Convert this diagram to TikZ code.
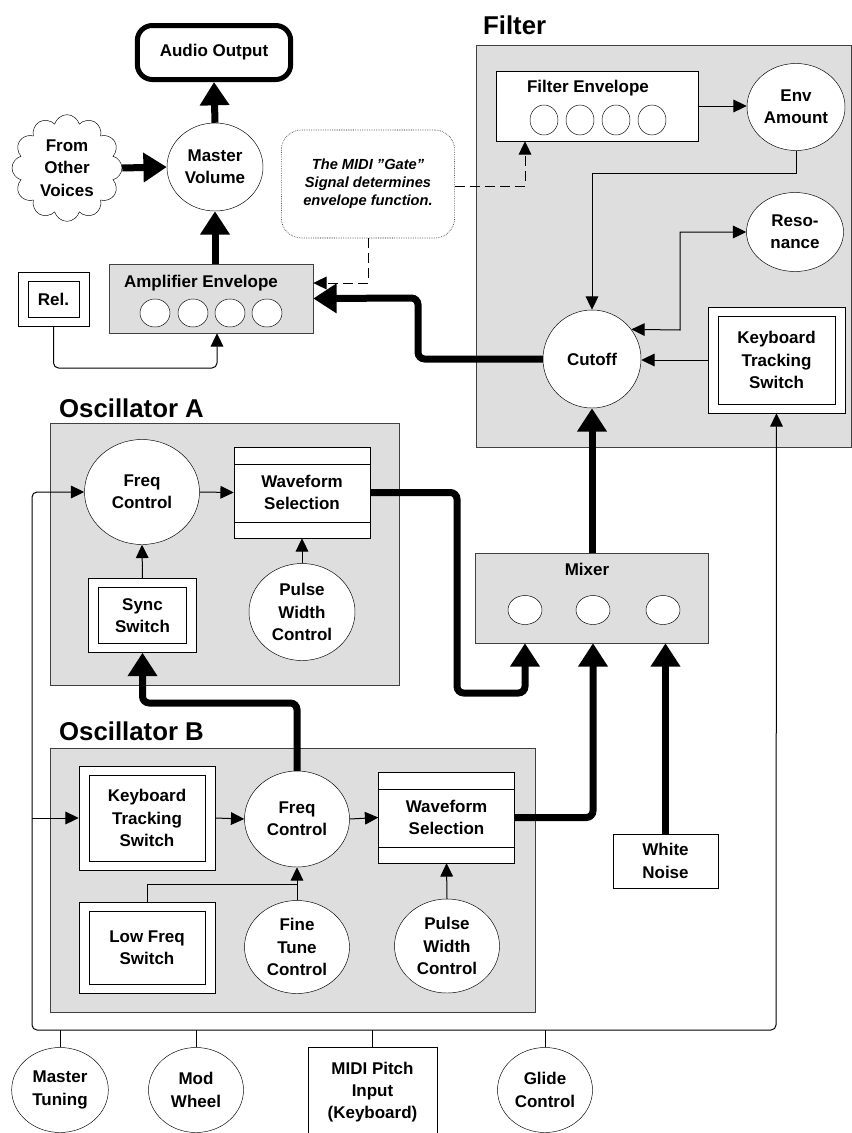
\documentclass[tikz,border=0pt]{standalone}
\usepackage{fontspec}
\setmainfont{Liberation Sans}
\usetikzlibrary{shapes.geometric,shapes.symbols,arrows.meta}

\begin{document}
\begin{tikzpicture}[
    x=0.3mm, y=-0.3mm,
    txt/.style={font=\fontsize{14.5}{19}\selectfont\bfseries, align=center},
    bigtitle/.style={font=\fontsize{22}{26}\selectfont\bfseries, anchor=base west},
    panel/.style={rectangle, draw=black!75, fill=black!13, inner sep=0pt},
    plainbox/.style={rectangle, draw, fill=white, inner sep=0pt, txt},
    ctrl/.style={ellipse, draw, fill=white, inner sep=0pt, txt},
    knob/.style={ellipse, draw, fill=white, inner sep=0pt,
        minimum width=9mm, minimum height=8.4mm},
    swbox/.style={plainbox,
        path picture={
            \draw ([shift={(3mm,-2.7mm)}]path picture bounding box.north west)
                rectangle ([shift={(-3mm,2.7mm)}]path picture bounding box.south east);
        }},
    wavebox/.style={plainbox, minimum width=40.8mm, minimum height=27.3mm,
        path picture={
            \draw ([yshift=-5.1mm]path picture bounding box.north west)
                -- ([yshift=-5.1mm]path picture bounding box.north east);
            \draw ([yshift=4.8mm]path picture bounding box.south west)
                -- ([yshift=4.8mm]path picture bounding box.south east);
        }},
    sigline/.style={line width=0.3mm, >={Triangle[length=4mm, width=3.8mm]}},
    gateline/.style={sigline, dash pattern=on 3mm off 1.5mm},
    audioline/.style={line width=2.1mm, rounded corners=2mm,
        >={Triangle[length=7mm, width=8.5mm]}}
]
\useasboundingbox (0,0) rectangle (852,1133);

% --- Output stage ---
\node[plainbox, line width=1.5mm, rounded corners=4.5mm,
      minimum width=46mm, minimum height=16.2mm] (audio) at (214,52.5) {Audio Output};
\node[ctrl, minimum width=28.8mm, minimum height=26.4mm] (mvol) at (215,167) {Master\\Volume};
\node[cloud, draw, fill=white, cloud puffs=12, minimum width=33mm, minimum height=32mm,
      inner sep=0pt] (voices) at (67,168) {};
\node[txt] (voicestxt) at (voices.center) {From\\Other\\Voices};
\node[plainbox, densely dotted, line width=0.5pt, rounded corners=6mm,
      minimum width=52mm, minimum height=32.4mm,
      font=\fontsize{12.5}{15.5}\selectfont\bfseries\itshape] (gatenote) at (368,184)
      {The MIDI \char34 Gate\char34\\Signal determines\\envelope function.};
\node[panel, minimum width=61.2mm, minimum height=20.7mm] (ampenv) at (211,298.5) {};
\node[txt, anchor=base] (amptitle) at (201,287) {Amplifier Envelope};
\foreach \x [count=\i] in {155,193,230,267}
    \node[knob] (ak\i) at (\x,313) {};
\node[swbox, minimum width=21.3mm, minimum height=16.2mm] (rel) at (53.5,299) {Rel.};

% --- Filter ---
\node[bigtitle] (filtertitle) at (479,34) {Filter};
\node[panel, minimum width=112.5mm, minimum height=120.6mm] (filterbox) at (663.5,246) {};
\node[plainbox, minimum width=60.6mm, minimum height=21mm] (fenv) at (597,106) {};
\node[txt, anchor=base] (fenvtitle) at (588,92) {Filter Envelope};
\foreach \x [count=\i] in {544,580,616,652}
    \node[knob, minimum width=8.4mm, minimum height=9mm] (fk\i) at (\x,120) {};
\node[ctrl, minimum width=29.4mm, minimum height=26.1mm] (envamt) at (796,107) {Env\\Amount};
\node[ctrl, minimum width=29.1mm, minimum height=23.7mm] (reso) at (795,232) {Reso-\\nance};
\node[ctrl, minimum size=29.4mm] (cutoff) at (592,359) {Cutoff};
\node[swbox, minimum width=41.1mm, minimum height=31.8mm] (fkts) at (776.5,360)
      {Keyboard\\Tracking\\Switch};

% --- Oscillator A ---
\node[bigtitle] (oatitle) at (55,417) {Oscillator A};
\node[panel, minimum width=104.7mm, minimum height=78.6mm] (oscabox) at (224.5,554) {};
\node[ctrl, minimum width=34.5mm, minimum height=31.5mm] (freqa) at (142,492) {Freq\\Control};
\node[wavebox] (wavea) at (302,492.5) {Waveform\\Selection};
\node[swbox, minimum width=32.4mm, minimum height=22.2mm] (synca) at (142.5,615.5) {Sync\\Switch};
\node[ctrl, minimum width=31.8mm, minimum height=29.1mm] (pwa) at (302,612) {Pulse\\Width\\Control};

% --- Mixer and noise ---
\node[panel, minimum width=69.9mm, minimum height=27mm] (mixer) at (591.5,598) {};
\node[txt, anchor=base] (mixtitle) at (587,575) {Mixer};
\foreach \x [count=\i] in {525,593,663}
    \node[knob, minimum width=10.2mm, minimum height=8.7mm] (mk\i) at (\x,610) {};
\node[plainbox, minimum width=31.5mm, minimum height=16.2mm] (noise) at (665.5,861) {White\\Noise};

% --- Oscillator B ---
\node[bigtitle] (obtitle) at (55,740) {Oscillator B};
\node[panel, minimum width=145.5mm, minimum height=79.2mm] (oscbbox) at (292.5,880) {};
\node[swbox, minimum width=40.8mm, minimum height=31.2mm] (ktsb) at (147,818)
      {Keyboard\\Tracking\\Switch};
\node[ctrl, minimum width=31.5mm, minimum height=28.8mm] (freqb) at (297,819) {Freq\\Control};
\node[wavebox] (waveb) at (446.5,817.5) {Waveform\\Selection};
\node[swbox, minimum width=40.8mm, minimum height=27.3mm] (lfs) at (147,947.5) {Low Freq\\Switch};
\node[ctrl, minimum width=31.5mm, minimum height=27.9mm] (fine) at (297,947) {Fine\\Tune\\Control};
\node[ctrl, minimum width=31.5mm, minimum height=28.2mm] (pwb) at (447,946) {Pulse\\Width\\Control};

% --- Performance controls ---
\node[ctrl, minimum width=29mm, minimum height=25.5mm] (mtune) at (60,1090) {Master\\Tuning};
\node[ctrl, minimum width=28.5mm, minimum height=25.5mm] (mwheel) at (196,1090) {Mod\\Wheel};
\node[plainbox, minimum width=38.7mm, minimum height=26.7mm] (midi) at (372.5,1092)
      {MIDI Pitch\\Input\\(Keyboard)};
\node[ctrl, minimum width=28.5mm, minimum height=25.5mm] (glide) at (545,1090) {Glide\\Control};
\coordinate (busl) at (32,1030);
\coordinate (busr) at (776,1030);

% --- Audio path (thick) ---
\draw[audioline, ->] (mvol.north) -- (audio.south);
\draw[audioline, ->] (voices.east) -- (mvol.west);
\draw[audioline, ->] (ampenv.north -| mvol) -- (mvol.south);
\coordinate (cutbend) at (418,298);
\draw[audioline, ->] (cutoff.west) -| (cutbend) -- (ampenv.east);
\draw[audioline, ->] (mixer.north -| cutoff) -- (cutoff.south);
\coordinate (oabend) at (457,693);
\draw[audioline, ->] (wavea.east) -| (oabend) -| (mk1 |- mixer.south);
\draw[audioline, ->] (waveb.east) -| (mk2 |- mixer.south);
\draw[audioline, ->] (noise.north) -- (noise.north |- mixer.south);
\coordinate (obbend) at (297,703);
\draw[audioline, ->] (freqb.north) -- (obbend) -| (synca.south);

% --- Filter controls ---
\draw[sigline, ->] (fenv.east) -- (envamt.west |- fenv.east);
\coordinate (eabend) at (592,173);
\draw[sigline, ->] (envamt.south) |- (eabend) -- (cutoff.north);
\coordinate (resbend) at (680,330);
\draw[sigline, <->] (cutoff.37) -- (resbend) |- (reso.west);
\draw[sigline, ->] (fkts.west) -- (cutoff.east |- fkts.west);

% --- Gate signal (dashed) ---
\coordinate (gbend) at (368,283);
\draw[gateline, ->] (gatenote.south) -- (gbend) -- (ampenv.east |- gbend);
\coordinate (gbend2) at (525,186);
\draw[gateline, ->] (gatenote.east |- gbend2) -- (gbend2) -- (fenv.south -| gbend2);

% --- Oscillator controls ---
\draw[sigline, ->] (freqa.east) -- (wavea.west);
\draw[sigline, ->] (synca.north) -- (freqa.south);
\draw[sigline, ->] (pwa.north) -- (wavea.south);
\draw[sigline, ->] (ktsb.east) -- (freqb.west);
\draw[sigline, ->] (freqb.east) -- (waveb.west);
\draw[sigline, ->] (fine.north) -- (freqb.south);
\coordinate (lfbend) at (297,884);
\draw[sigline] (lfs.north) |- (lfbend);
\draw[sigline, ->] (pwb.north) -- (waveb.south);

% --- Release switch ---
\coordinate (relbend) at (217,368);
\draw[sigline, ->, rounded corners=1.5mm] (rel.south) |- (relbend) -- (relbend |- ampenv.south);

% --- Control bus ---
\draw[sigline, <->, rounded corners=1.5mm] (freqa.west) -- (freqa.west -| busl) -- (busl)
    -- (busr) -- (fkts.south);
\draw[sigline, ->] (ktsb.west -| busl) -- (ktsb.west);
\foreach \n in {mtune, mwheel, midi, glide}
    \draw[sigline] (\n.north) -- (\n.north |- busl);

\end{tikzpicture}
\end{document}
